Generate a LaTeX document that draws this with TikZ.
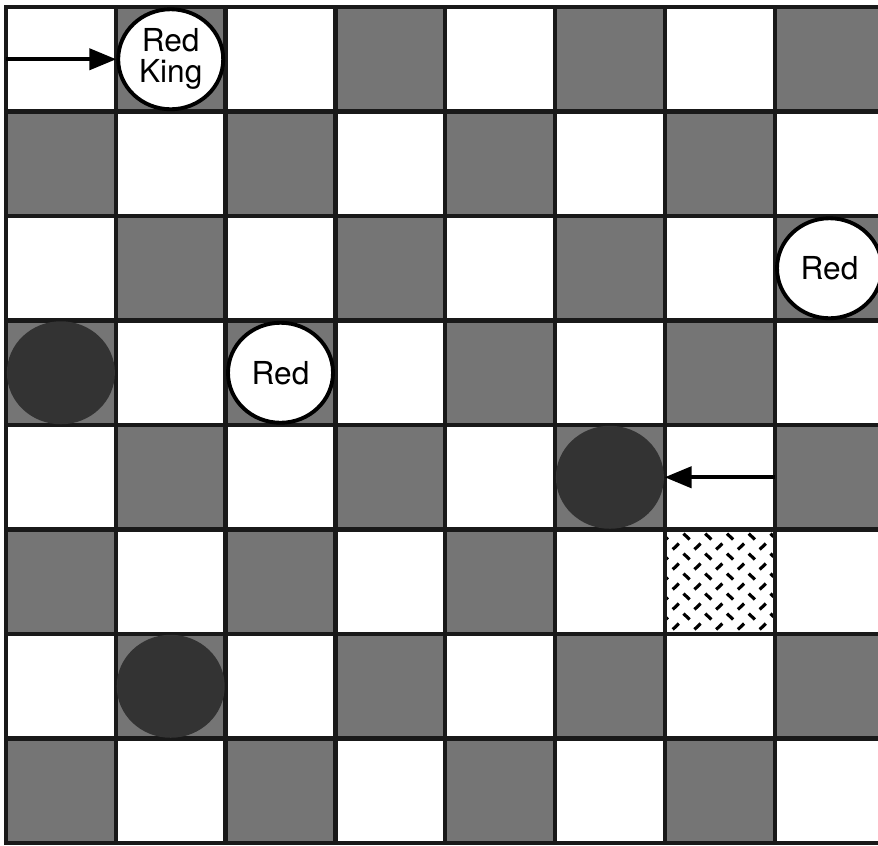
\documentclass[tikz,border=0pt]{standalone}
\usepackage{fontspec}
\setmainfont{TeX Gyre Heros}
\usetikzlibrary{arrows.meta,positioning,calc,shapes.geometric}
\definecolor{darksq}{gray}{0.46}
\definecolor{blackfill}{gray}{0.2}

\begin{document}
\begin{tikzpicture}[x=1.098cm, y=-1.045cm, >={Triangle[length=0.27cm,width=0.21cm]},
    grid/.style={line width=1.2pt, black!90},
    redpc/.style={draw, ellipse, line width=1.1pt, fill=white, minimum width=1.05cm, minimum height=1.0cm, inner sep=0pt, align=center, font=\fontsize{9}{8.8}\selectfont},
    blackpc/.style={ellipse, fill=blackfill, minimum width=1.08cm, minimum height=1.03cm, inner sep=0pt},
    mover/.style={->, line width=1.2pt}]
    \useasboundingbox (-0.06cm,0.07cm) rectangle ++(8.78cm,-8.45cm);
    \fill[white] (-0.06cm,0.07cm) rectangle ++(8.78cm,-8.45cm);
    \foreach \r in {0,...,7}
      \foreach \c in {0,...,7} {
        \pgfmathparse{int(mod(\r+\c,2))}
        \ifnum\pgfmathresult=1 \fill[darksq] (\c,\r) rectangle ++(1,1); \fi
      }
    \fill[white] (6,5) rectangle ++(1,1);
    \begin{scope}
      \clip (6,5) rectangle ++(1,1);
      \foreach \j in {0,2,...,8}
        \foreach \i in {0,...,5}
          \draw[line width=0.9pt] ($(6+0.198*\i,5.067+0.0957*\j)+(-0.028,-0.028)$) -- ++(0.056,0.056);
      \foreach \j in {1,3,...,9}
        \foreach \i in {0,...,4}
          \draw[line width=0.9pt] ($(6.1+0.198*\i,5.067+0.0957*\j)+(-0.028,0.028)$) -- ++(0.056,-0.056);
    \end{scope}
    \draw[grid] (0,0) rectangle (8,8);
    \foreach \k in {1,...,7} {
      \draw[grid] (\k,0) -- (\k,8);
      \draw[grid] (0,\k) -- (8,\k);
    }

    \node [redpc] (redking) at (1.5,0.5) {Red\\King};
    \node [redpc] (redright) at (7.5,2.5) {Red};
    \node [redpc] (redmid) at (2.5,3.5) {Red};
    \node [blackpc] (blackleft) at (0.5,3.5) {};
    \node [blackpc] (blackjump) at (5.5,4.5) {};
    \node [blackpc] (blacklow) at (1.5,6.5) {};

    \coordinate (kingtail) at (0,0.5);
    \coordinate (jumptail) at (7,4.5);
    \draw [mover] (kingtail) -- (redking);
    \draw [mover] (jumptail) -- (blackjump);
\end{tikzpicture}
\end{document}
